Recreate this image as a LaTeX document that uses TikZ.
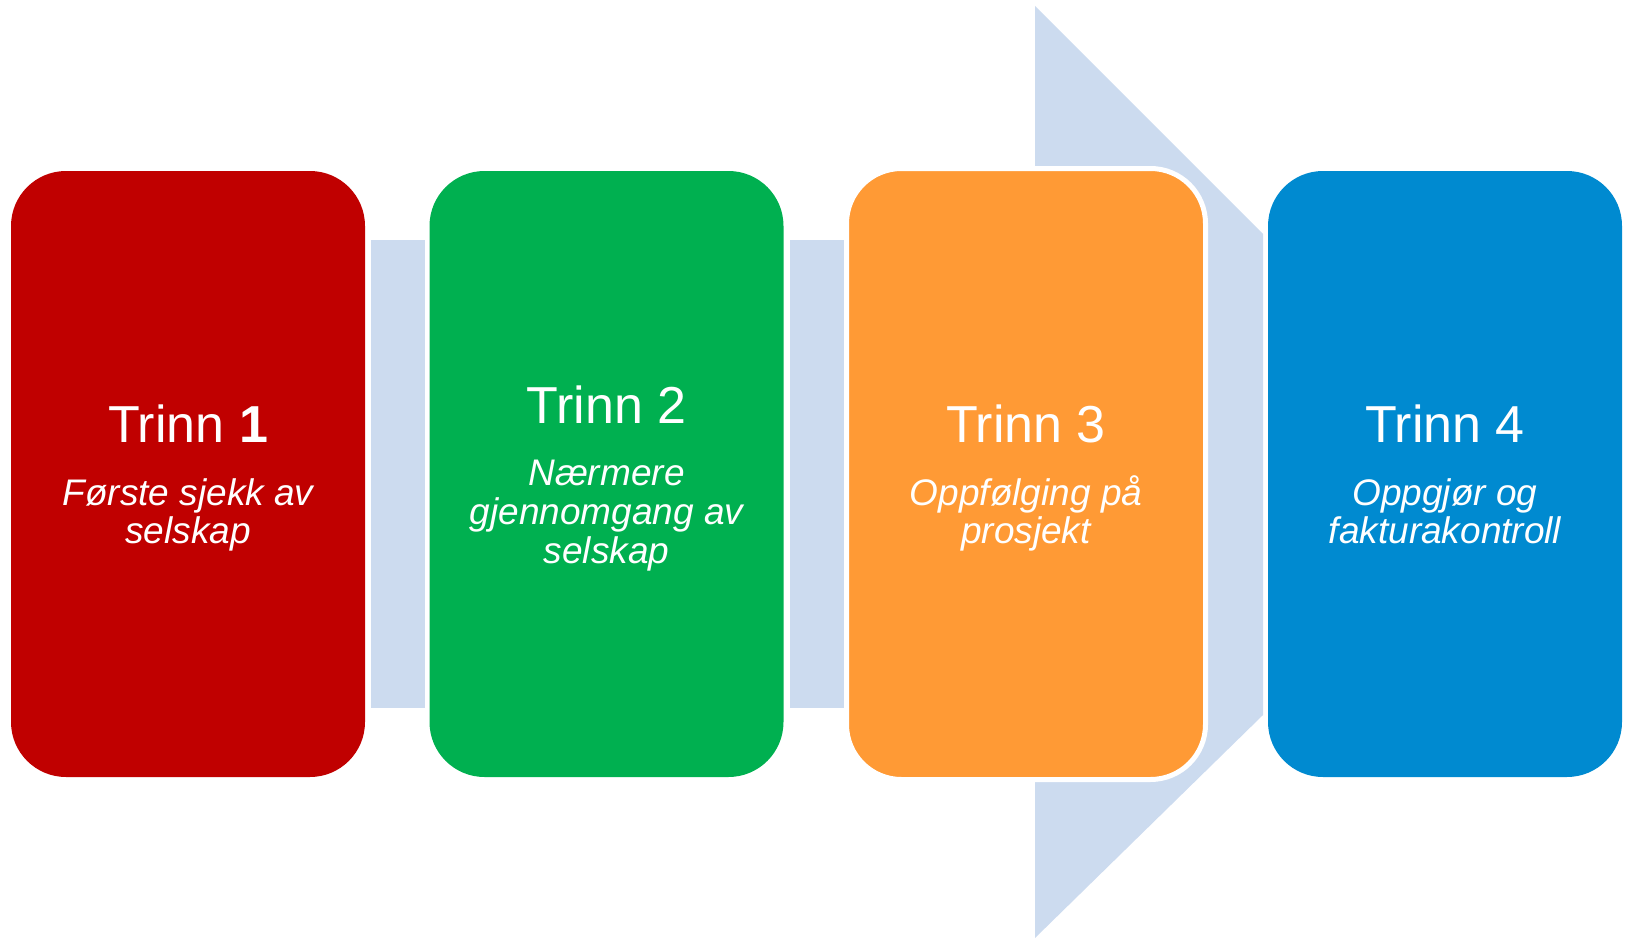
\documentclass[tikz,border=0pt]{standalone}
\usepackage{fontspec}
\setmainfont{Liberation Sans}
\definecolor{redbox}{HTML}{C00000}
\definecolor{greenbox}{HTML}{00B050}
\definecolor{orangebox}{HTML}{FF9A35}
\definecolor{bluebox}{HTML}{008AD0}
\definecolor{linkblue}{HTML}{CCDBEF}
\begin{document}
\begin{tikzpicture}[x=1pt,y=-1pt,
  stage/.style={rounded corners=55pt, minimum width=354pt, minimum height=606pt, inner sep=0pt, outer sep=0pt},
  link/.style={fill=linkblue, inner sep=0pt, outer sep=0pt, minimum width=54pt, minimum height=468pt},
  title/.style={anchor=base, text=white, font=\fontsize{52}{60}\selectfont, inner sep=0pt},
  desc/.style={anchor=base, text=white, font=\fontsize{37}{39}\selectfont\itshape, inner sep=0pt}]
\useasboundingbox (0,0) rectangle (1625,939);
% big background arrow head
\fill[linkblue] (1035,6) -- (1263,234) -- (1263,715) -- (1035,938) -- cycle;
% connectors
\node[link] (l1) at (398,474) {};
\node[link] (l2) at (817,474) {};
% stage boxes
\node[stage, fill=redbox] (b1) at (188,474) {};
\node[stage, fill=greenbox] (b2) at (606.5,474) {};
\node[stage, fill=orangebox, draw=white, line width=5pt, minimum width=359pt, minimum height=611pt] (b3) at (1026,474) {};
\node[stage, fill=bluebox] (b4) at (1445,474) {};
% texts
\node[title] (t1) at (188,442) {Trinn \textbf{1}};
\node[desc] (d1a) at (188,505) {Første sjekk av};
\node[desc] (d1b) at (188,543) {selskap};
\node[title] (t2) at (606.5,423) {Trinn 2};
\node[desc] (d2a) at (606.5,485) {Nærmere};
\node[desc] (d2b) at (606.5,524) {gjennomgang av};
\node[desc] (d2c) at (606.5,563) {selskap};
\node[title] (t3) at (1026,442) {Trinn 3};
\node[desc] (d3a) at (1026,505) {Oppfølging på};
\node[desc] (d3b) at (1026,543) {prosjekt};
\node[title] (t4) at (1445,442) {Trinn 4};
\node[desc] (d4a) at (1445,505) {Oppgjør og};
\node[desc] (d4b) at (1445,543) {fakturakontroll};
\end{tikzpicture}
\end{document}
